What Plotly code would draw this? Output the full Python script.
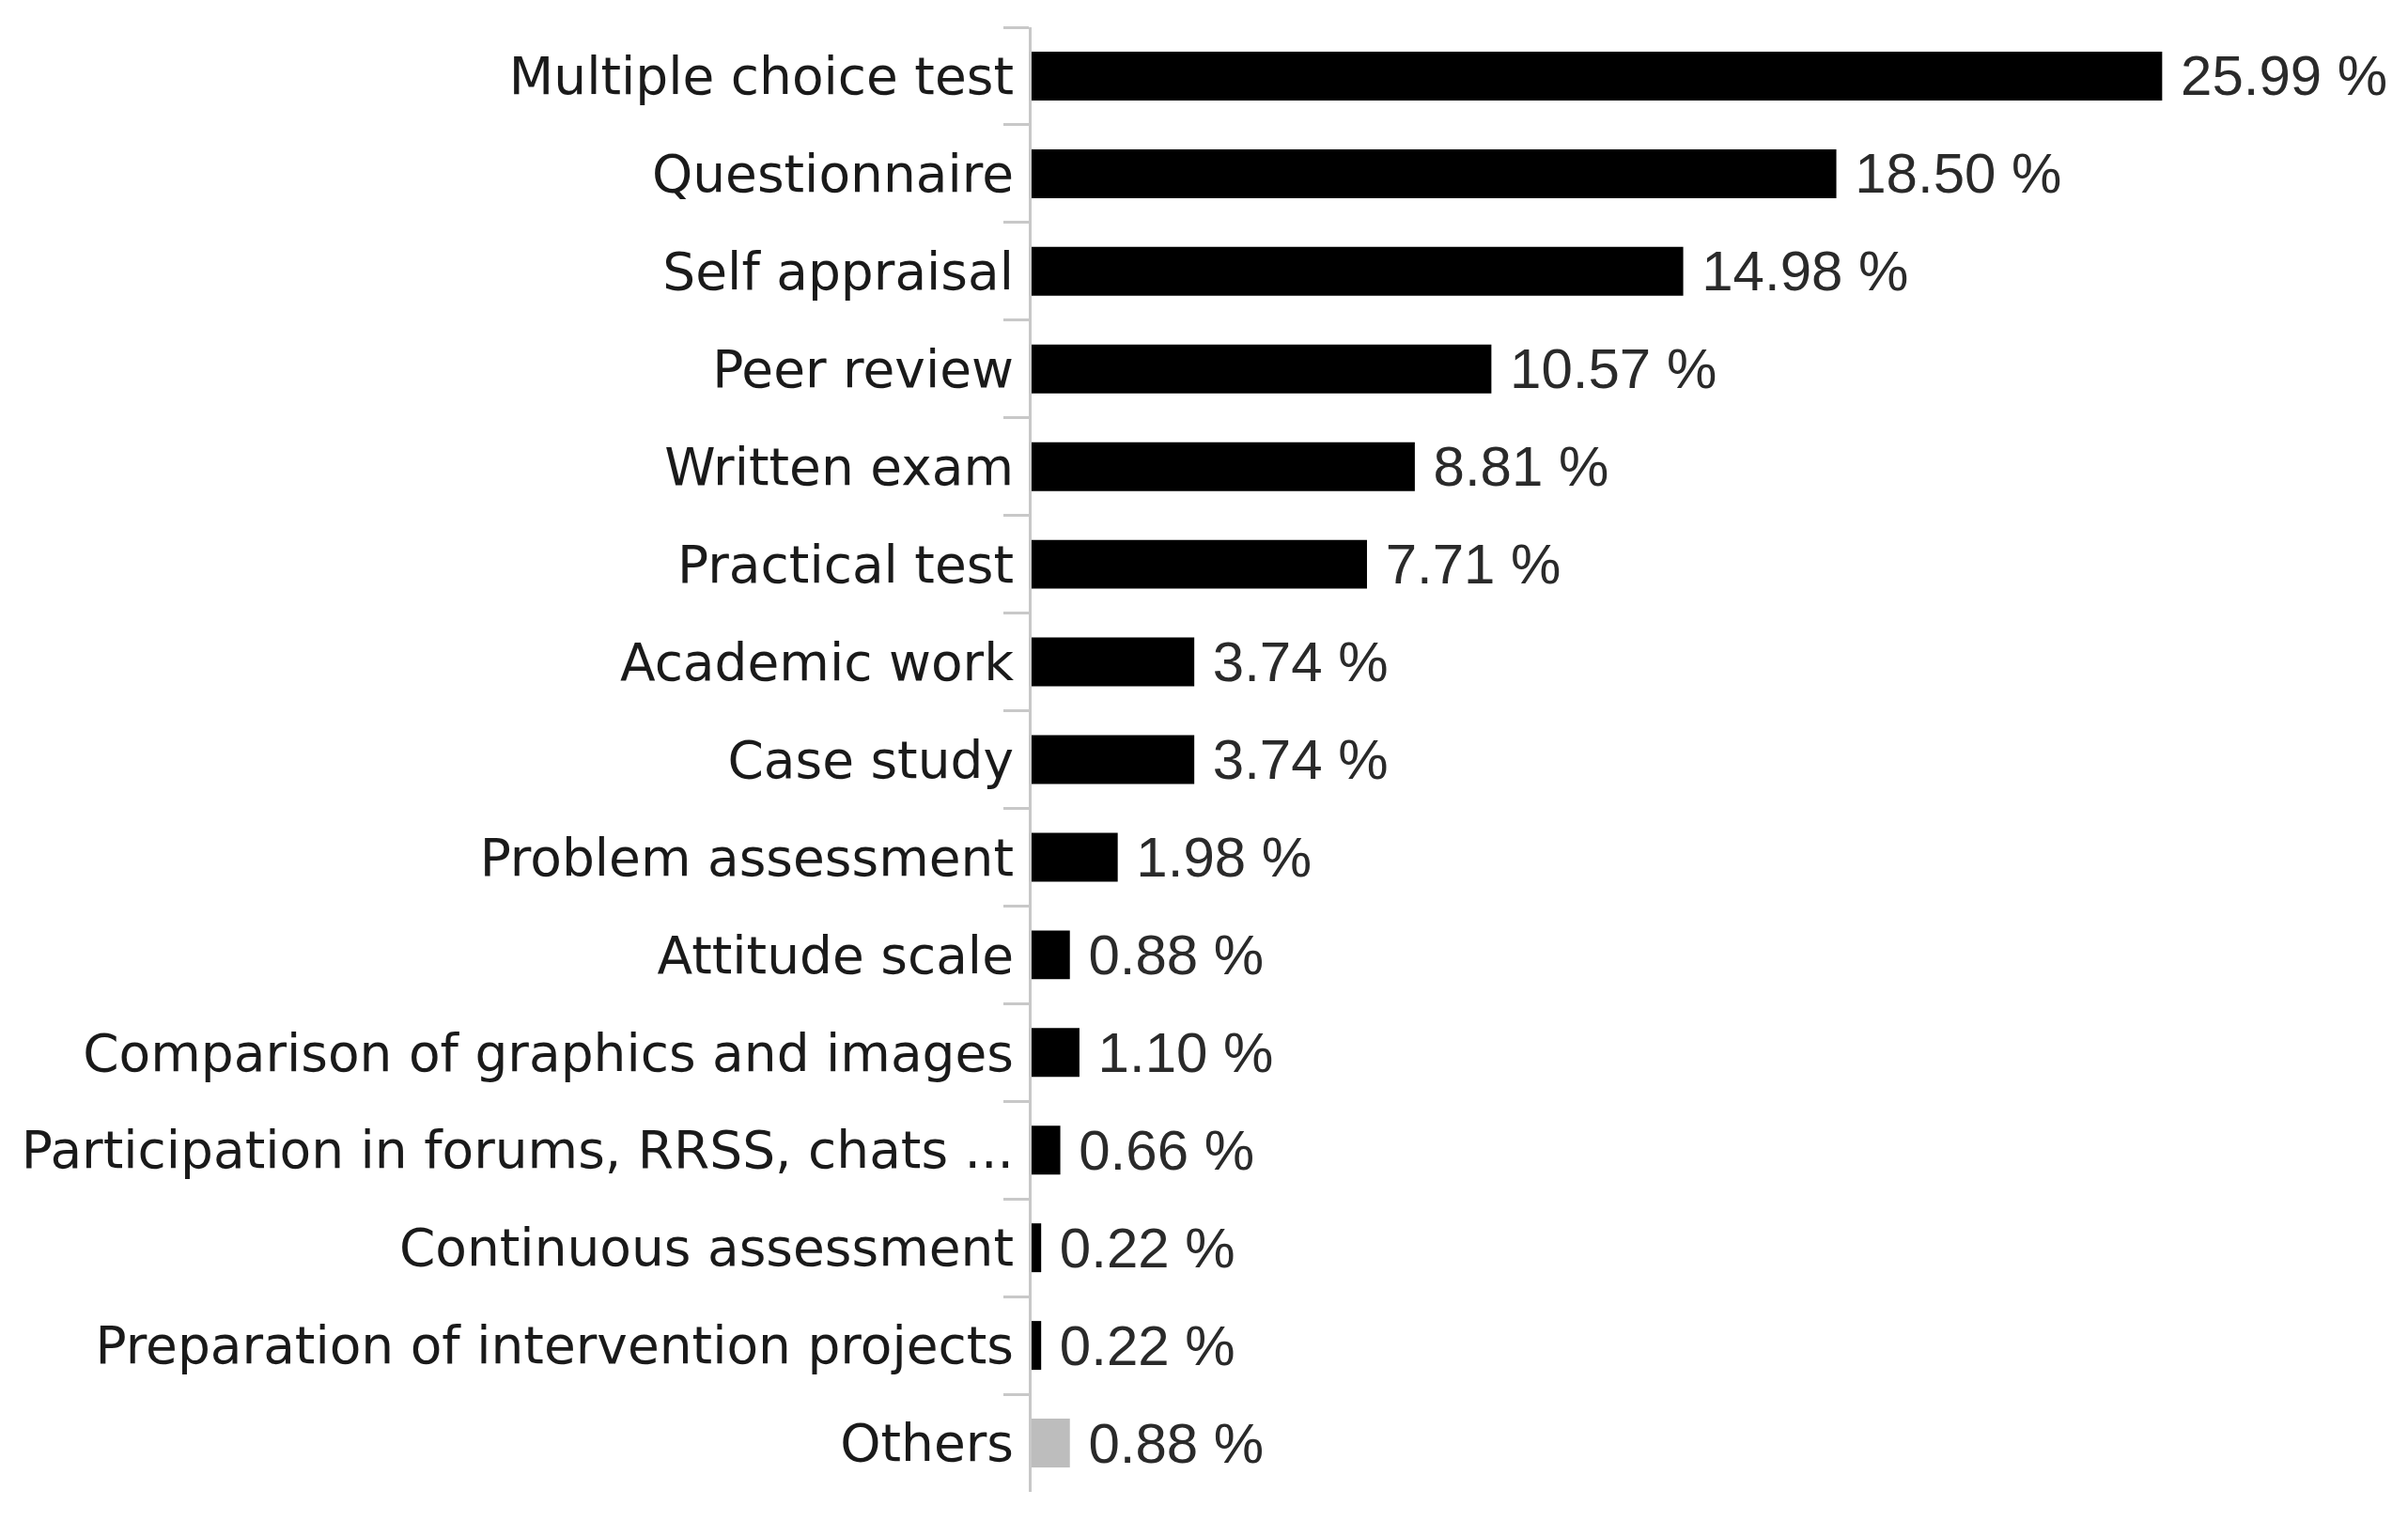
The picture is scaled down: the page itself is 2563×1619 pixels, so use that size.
import plotly.graph_objects as go

# Assessment methods and their share (%)
methods = [
    "Multiple choice test",
    "Questionnaire",
    "Self appraisal",
    "Peer review",
    "Written exam",
    "Practical test",
    "Academic work",
    "Case study",
    "Problem assessment",
    "Attitude scale",
    "Comparison of graphics and images",
    "Participation in forums, RRSS, chats ...",
    "Continuous assessment",
    "Preparation of intervention projects",
    "Others",
]
shares = [25.99, 18.50, 14.98, 10.57, 8.81, 7.71, 3.74, 3.74, 1.98, 0.88, 1.10, 0.66, 0.22, 0.22, 0.88]

bar_colors = ["#000000"] * (len(methods) - 1) + ["#bdbdbd"]

fig = go.Figure()

fig.add_trace(go.Bar(
    y = methods,
    x = shares,
    orientation = "h",
    marker = dict(color = bar_colors, line = dict(width = 0)),
    texttemplate = " %{x:.2f} %",
    textposition = "outside",
    constraintext = "none",
    textfont = dict(family = "Liberation Sans", size = 60, color = "#2a2a2a"),
    cliponaxis = False,
    hoverinfo = "skip",
))

fig.update_layout(
    width = 2563,
    height = 1619,
    margin = dict(l = 1090, r = 84, t = 21, b = 39),
    paper_bgcolor = "white",
    plot_bgcolor = "white",
    bargap = 0.5,
    showlegend = False,
    font = dict(family = "DejaVu Sans", size = 55, color = "#1a1a1a"),
)

fig.update_xaxes(
    range = [0, 30],
    showgrid = False,
    zeroline = False,
    showline = False,
    showticklabels = False,
    ticks = "",
)

fig.update_yaxes(
    categoryorder = "array",
    categoryarray = methods,
    autorange = "reversed",
    showgrid = False,
    showline = True,
    linecolor = "#c8c8c8",
    linewidth = 3,
    ticks = "outside",
    tickson = "boundaries",
    ticklen = 27,
    tickwidth = 3,
    tickcolor = "#c8c8c8",
    ticklabelstandoff = 5,
)

fig.write_html("out.html")
